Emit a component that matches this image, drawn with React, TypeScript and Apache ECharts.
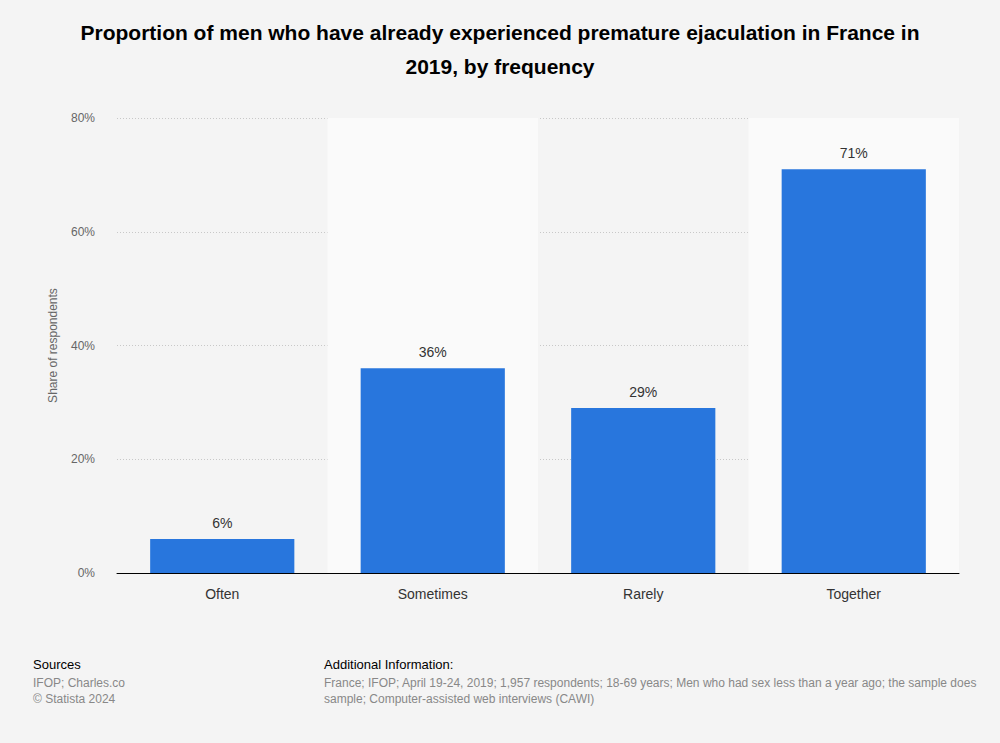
import React, { useEffect, useRef } from "react";
import * as echarts from "echarts";

const categories = ["Often", "Sometimes", "Rarely", "Together"];
const values = [6, 36, 29, 71];
const yTicks = [0, 20, 40, 60, 80];

const titleText =
  "Proportion of men who have already experienced premature ejaculation in France in\n2019, by frequency";
const sourcesLines = ["IFOP; Charles.co", "© Statista 2024"];
const infoLines = [
  "France; IFOP; April 19-24, 2019; 1,957 respondents; 18-69 years; Men who had sex less than a year ago; the sample does",
  "sample; Computer-assisted web interviews (CAWI)",
];

const FONT = "'Liberation Sans', Arial, Helvetica, sans-serif";

export default function App() {
  const ref = useRef<HTMLDivElement>(null);
  useEffect(() => {
    if (!ref.current) return;
    const chart = echarts.init(ref.current, undefined, { renderer: "svg" });
    chart.setOption({
      animation: false,
      backgroundColor: "#f4f4f4",
      textStyle: { fontFamily: FONT },
      title: {
        text: titleText,
        left: "center",
        top: 10,
        textStyle: {
          fontFamily: FONT,
          fontSize: 21,
          fontWeight: "bold",
          color: "#000",
          lineHeight: 34,
        },
      },
      grid: { left: 117, right: 41, top: 118, bottom: 170, containLabel: false },
      xAxis: {
        type: "category",
        data: categories,
        axisLine: { show: true, lineStyle: { color: "#000", width: 1 } },
        axisTick: { show: false },
        axisLabel: { color: "#333", fontSize: 14, margin: 14, fontFamily: FONT },
        splitArea: {
          show: true,
          areaStyle: { color: ["rgba(0,0,0,0)", "#fafafa"] },
        },
      },
      yAxis: {
        type: "value",
        min: yTicks[0],
        max: yTicks[yTicks.length - 1],
        interval: 20,
        name: "Share of respondents",
        nameLocation: "middle",
        nameGap: 58,
        nameTextStyle: { color: "#666", fontSize: 12, fontFamily: FONT },
        axisLine: { show: false },
        axisTick: { show: false },
        axisLabel: {
          formatter: "{value}%",
          color: "#666",
          fontSize: 12,
          margin: 22,
          fontFamily: FONT,
        },
        splitLine: { lineStyle: { color: "#c8c8c8", type: [1, 2], width: 1 } },
      },
      series: [
        {
          type: "bar",
          data: values,
          barWidth: "68.5%",
          itemStyle: { color: "#2876dd" },
          label: {
            show: true,
            position: "top",
            distance: 9,
            formatter: "{c}%",
            color: "#333",
            fontSize: 14,
            fontFamily: FONT,
          },
          z: 3,
        },
      ],
      graphic: [
        {
          type: "text",
          left: 33,
          top: 658,
          style: { text: "Sources", fill: "#000", font: `13px ${FONT}` },
        },
        {
          type: "text",
          left: 33,
          top: 675,
          style: {
            text: sourcesLines.join("\n"),
            fill: "#888",
            font: `12px ${FONT}`,
            lineHeight: 16,
          },
        },
        {
          type: "text",
          left: 324,
          top: 658,
          style: { text: "Additional Information:", fill: "#000", font: `13px ${FONT}` },
        },
        {
          type: "text",
          x: 324,
          y: 675,
          style: {
            text: infoLines.join("\n"),
            fill: "#888",
            font: `12px ${FONT}`,
            lineHeight: 16,
          },
        },
      ],
    });
    return () => chart.dispose();
  }, []);
  return (
    <div
      ref={ref}
      style={{ position: "fixed", left: 0, top: 0, width: 1000, height: 743, overflow: "hidden" }}
    />
  );
}
